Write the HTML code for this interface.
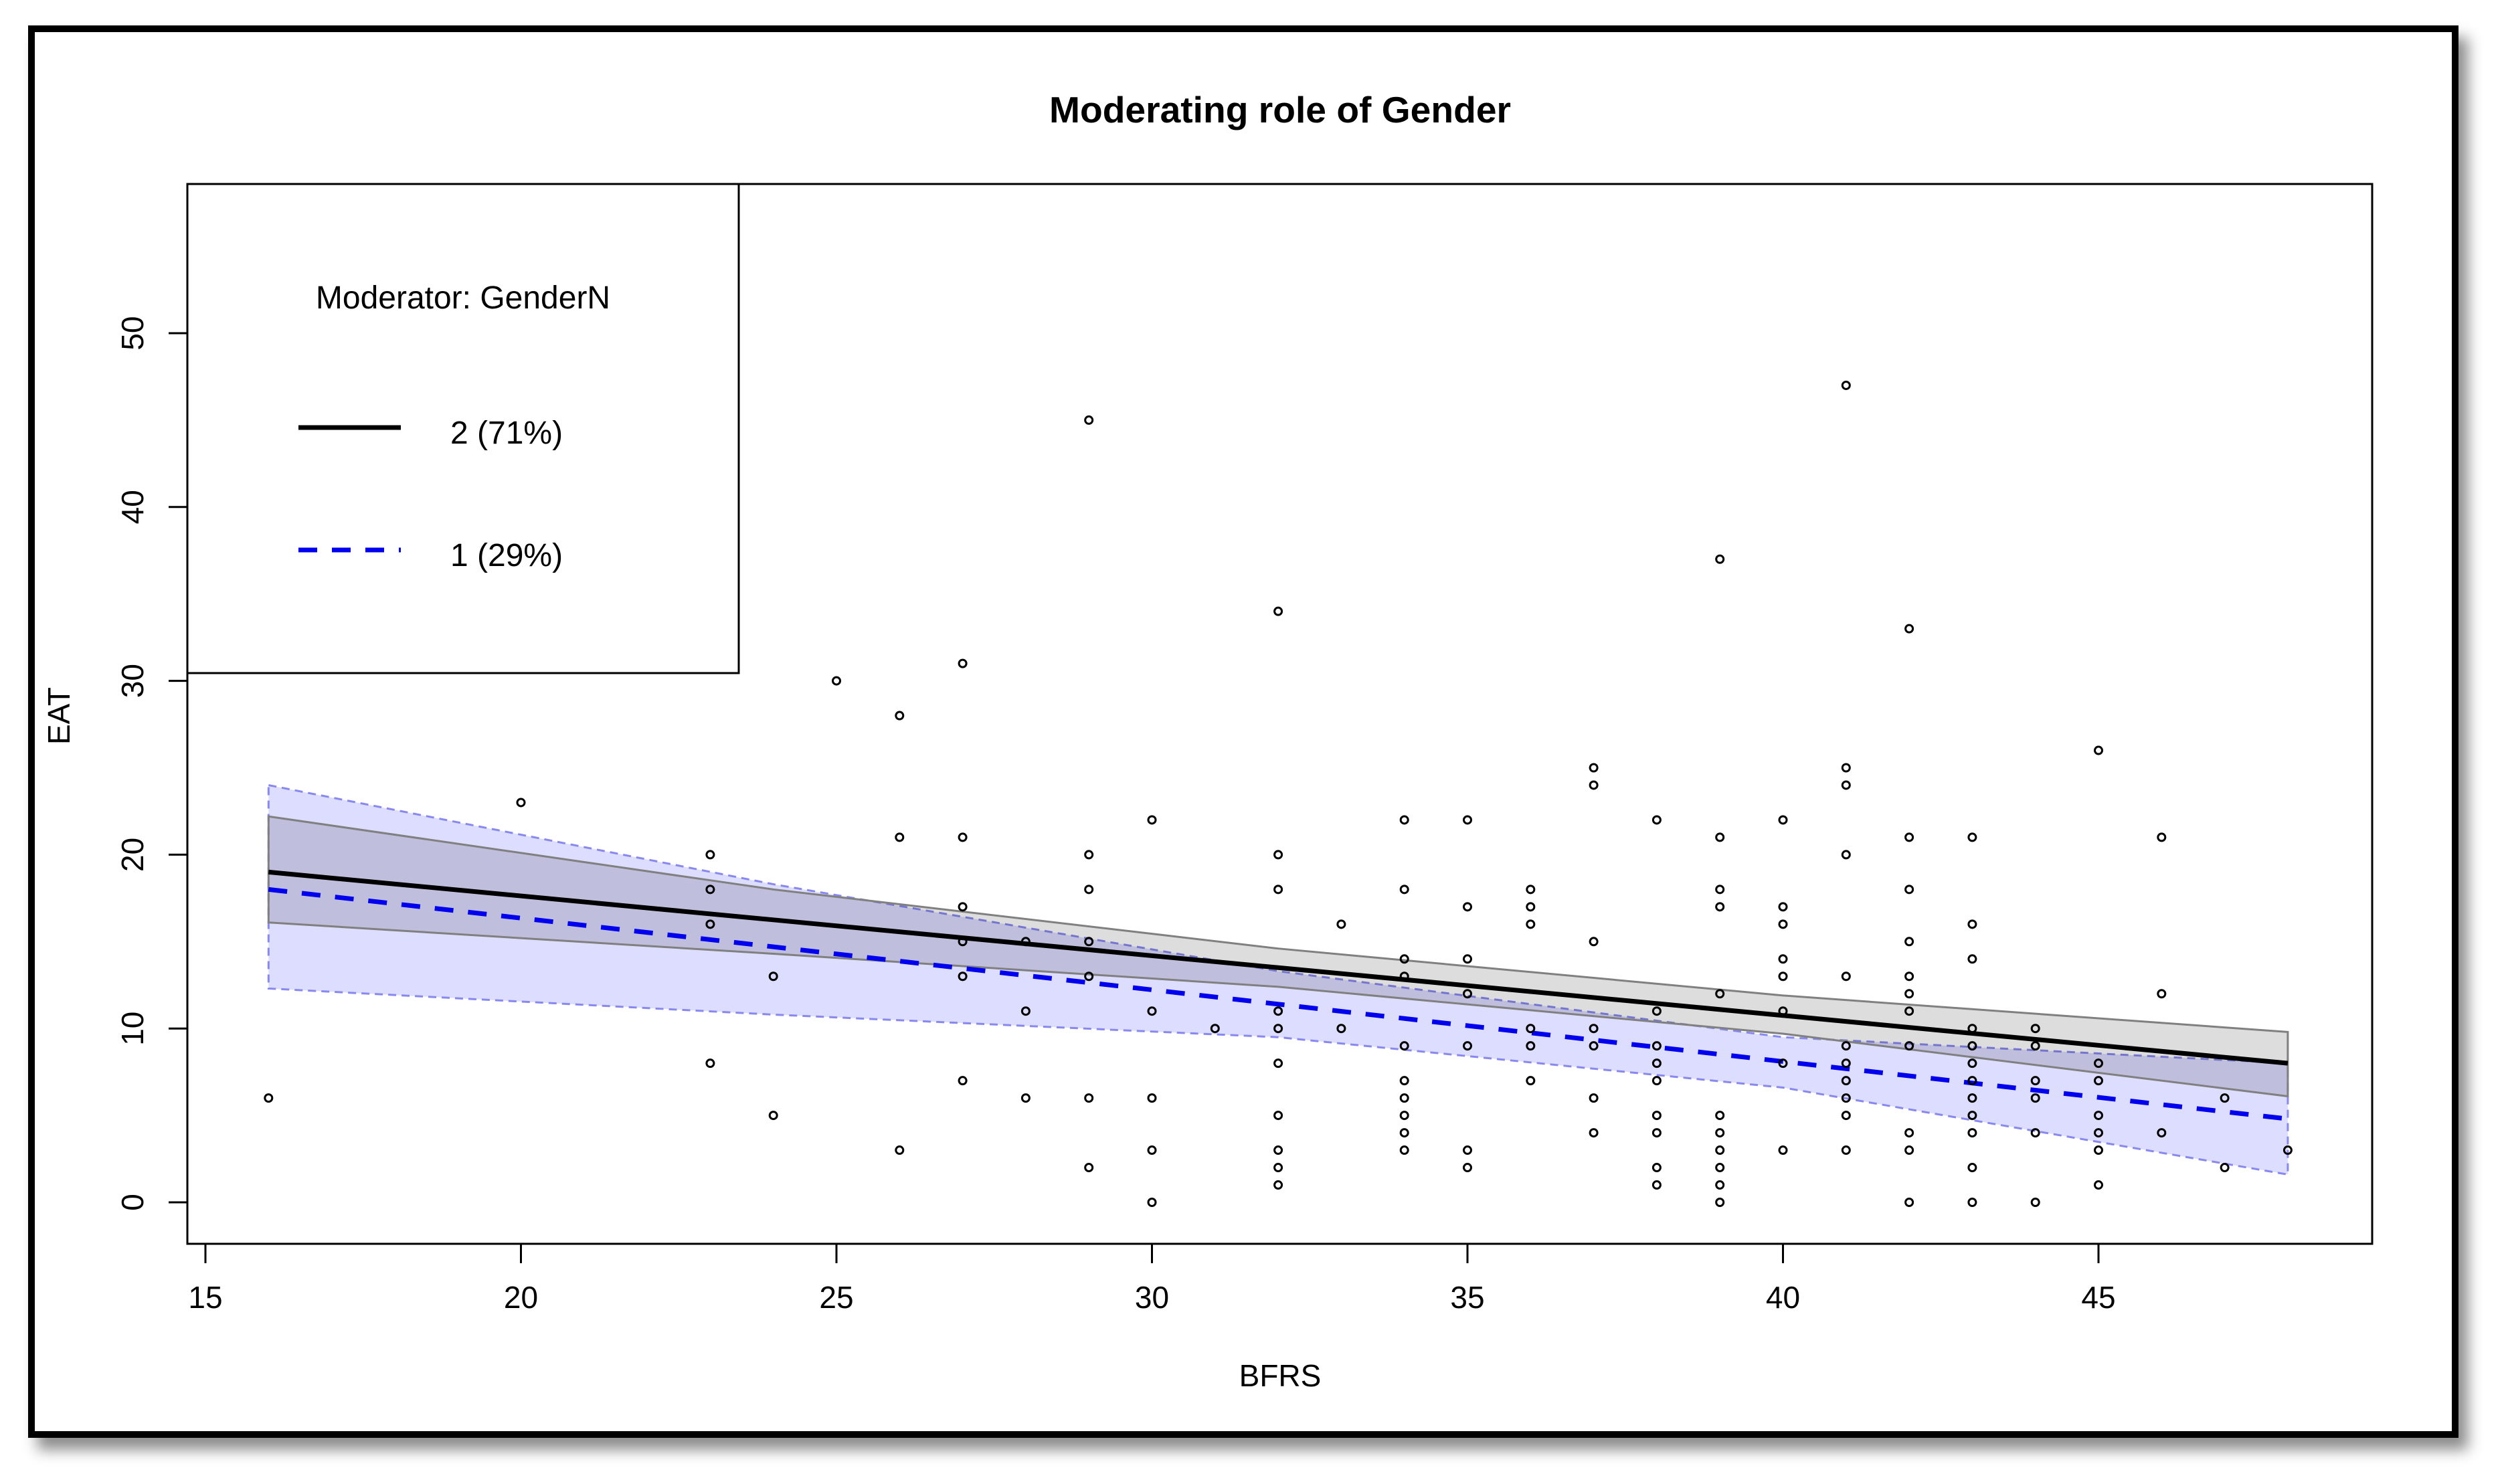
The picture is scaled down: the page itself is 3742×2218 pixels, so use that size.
<!DOCTYPE html>
<html><head><meta charset="utf-8"><style>
html,body{margin:0;padding:0;background:#fff;}
body{width:3742px;height:2218px;overflow:hidden;position:relative;font-family:"Liberation Sans",sans-serif;}
#frame{position:absolute;left:42px;top:38px;width:3612px;height:2091px;border:10px solid #000;box-shadow:14px 18px 20px rgba(0,0,0,0.45);background:#fff;}
svg{position:absolute;left:0;top:0;}
</style></head><body>
<div id="frame"></div>
<svg id="chart" width="3742" height="2218" font-family="Liberation Sans, sans-serif">
<text x="1913" y="183" font-size="55" font-weight="bold" text-anchor="middle" textLength="690" lengthAdjust="spacingAndGlyphs">Moderating role of Gender</text>
<g id="bands"></g><g id="lines"></g><g id="points"></g><g id="axes"></g>
<rect x="280" y="275" width="3265" height="1584" fill="none" stroke="#000" stroke-width="3"/>
<g>
<rect x="280" y="275" width="824" height="731" fill="#fff" stroke="#000" stroke-width="3"/>
<text x="692" y="461" font-size="48" text-anchor="middle">Moderator: GenderN</text>
<line x1="446" y1="639" x2="599" y2="639" stroke="#000" stroke-width="7"/>
<text x="673" y="663" font-size="48">2 (71%)</text>
<line x1="446" y1="822" x2="599" y2="822" stroke="#0000ee" stroke-width="7" stroke-dasharray="28,22"/>
<text x="673" y="846" font-size="48">1 (29%)</text>
</g>
<text x="1913" y="2072" font-size="46" text-anchor="middle">BFRS</text>
<text transform="translate(104,1070) rotate(-90)" font-size="46" text-anchor="middle">EAT</text>
</svg>
<script>
const xTicks=[15,20,25,30,35,40,45];
const yTicks=[0,10,20,30,40,50];
const fitX=[16,24,32,40,48];
const fit2=[19,16.25,13.5,10.75,8];
const ci2Upper=[22.2,18.0,14.6,11.9,9.8];
const ci2Lower=[16.1,14.3,12.4,9.7,6.1];
const fit1=[18.0,14.7,11.4,8.1,4.8];
const ci1Upper=[24.0,18.3,13.3,9.5,8.0];
const ci1Lower=[12.3,10.8,9.5,6.6,1.6];
const ptX=[16,20,23,23,23,23,24,24,25,26,26,26,27,27,27,27,27,27,28,28,28,29,29,29,29,29,29,29,30,30,30,30,30,31,
32,32,32,32,32,32,32,32,32,32,33,33,34,34,34,34,34,34,34,34,34,34,35,35,35,35,35,35,35,36,36,36,36,36,36,
37,37,37,37,37,37,37,38,38,38,38,38,38,38,38,38,39,39,39,39,39,39,39,39,39,39,39,
40,40,40,40,40,40,40,40,41,41,41,41,41,41,41,41,41,41,41,42,42,42,42,42,42,42,42,42,42,42,
43,43,43,43,43,43,43,43,43,43,43,43,44,44,44,44,44,44,45,45,45,45,45,45,45,46,46,46,47,47,48];
const ptY=[6,23,20,18,16,8,13,5,30,28,21,3,31,21,17,15,13,7,15,11,6,45,20,18,15,13,6,2,22,11,6,3,0,10,
34,20,18,11,10,8,5,3,2,1,16,10,22,18,14,13,9,7,6,5,4,3,22,17,14,12,9,3,2,18,17,16,10,9,7,
25,24,15,10,9,6,4,22,11,9,8,7,5,4,2,1,37,21,18,17,12,5,4,3,2,1,0,
22,17,16,14,13,11,8,3,47,25,24,20,13,9,8,7,6,5,3,33,21,18,15,13,12,11,9,4,3,0,
21,16,14,10,9,8,7,6,5,4,2,0,10,9,7,6,4,0,26,8,7,5,4,3,1,21,12,4,6,2,3];
const X=v=>307+(v-15)*94.3;
const Y=v=>1797-v*25.98;
const NS='http://www.w3.org/2000/svg';
function mk(tag,parent,attrs){const e=document.createElementNS(NS,tag);for(const k in attrs)e.setAttribute(k,attrs[k]);document.getElementById(parent).appendChild(e);return e;}
function bandPath(up,lo){let d='M'+fitX.map((x,i)=>X(x)+','+Y(up[i])).join(' L');for(let i=fitX.length-1;i>=0;i--)d+=' L'+X(fitX[i])+','+Y(lo[i]);return d+' Z';}
function linePath(a){return 'M'+fitX.map((x,i)=>X(x)+','+Y(a[i])).join(' L');}
let b1=mk('path','bands',{d:bandPath(ci1Upper,ci1Lower),fill:'rgba(0,0,255,0.135)',stroke:'#8888f0','stroke-width':3,'stroke-dasharray':'12,8'});


let b2=mk('path','bands',{d:bandPath(ci2Upper,ci2Lower),fill:'rgba(0,0,0,0.135)',stroke:'#808080','stroke-width':3});


let l2=mk('path','lines',{d:linePath(fit2),fill:'none',stroke:'#000','stroke-width':7});


let l1=mk('path','lines',{d:linePath(fit1),fill:'none',stroke:'#0000ee','stroke-width':7,'stroke-dasharray':'28,22'});


for(let i=0;i<ptX.length;i++){
 let c=mk('circle','points',{cx:X(ptX[i]),cy:Y(ptY[i]),r:5.5,fill:'none',stroke:'#000','stroke-width':3});
 
 
}
xTicks.forEach(t=>{
 let l=mk('line','axes',{x1:X(t),y1:1859,x2:X(t),y2:1888,stroke:'#000','stroke-width':3});
 
 
 let tx=mk('text','axes',{x:X(t),y:1955,'font-size':46,'text-anchor':'middle'});
 tx.textContent=t;
 
 
});
yTicks.forEach(t=>{
 let l=mk('line','axes',{x1:252,y1:Y(t),x2:280,y2:Y(t),stroke:'#000','stroke-width':3});
 
 
 let tx=mk('text','axes',{transform:'translate(214,'+Y(t)+') rotate(-90)','font-size':46,'text-anchor':'middle'});
 tx.textContent=t;
 
 
});
</script>
</body></html>
